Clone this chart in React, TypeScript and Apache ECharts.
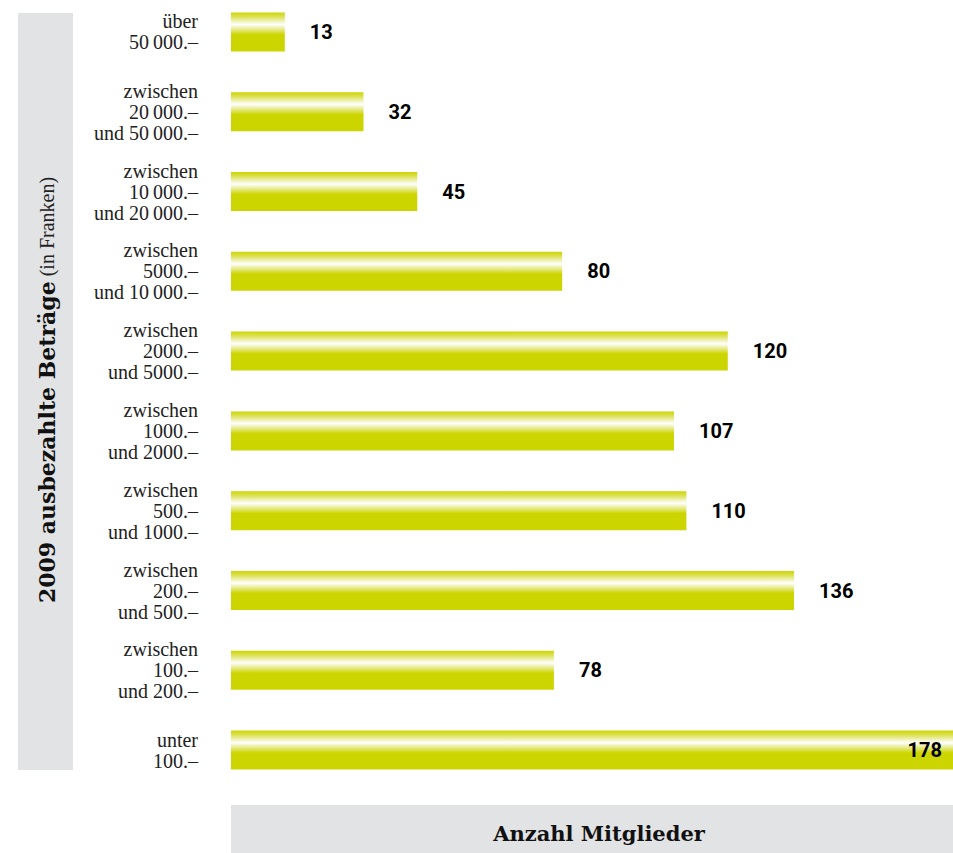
import React, { useEffect, useRef } from "react";
import * as echarts from "echarts";

const categories = [
  "über\n50\u2009000.–",
  "zwischen\n20\u2009000.–\nund 50\u2009000.–",
  "zwischen\n10\u2009000.–\nund 20\u2009000.–",
  "zwischen\n5000.–\nund 10\u2009000.–",
  "zwischen\n2000.–\nund 5000.–",
  "zwischen\n1000.–\nund 2000.–",
  "zwischen\n500.–\nund 1000.–",
  "zwischen\n200.–\nund 500.–",
  "zwischen\n100.–\nund 200.–",
  "unter\n100.–",
];
const values = [13, 32, 45, 80, 120, 107, 110, 136, 78, 178];
const xTitle = "Anzahl Mitglieder";
const yTitleBold = "2009 ausbezahlte Beträge";
const yTitleLight = " (in Franken)";

const SHIFT = 8;

export default function App() {
  const ref = useRef<HTMLDivElement>(null);
  useEffect(() => {
    if (!ref.current) return;
    const chart = echarts.init(ref.current, null, { renderer: "svg" });
    const yellow = "#cdd500";
    const grad = new echarts.graphic.LinearGradient(0, 0, 0, 1, [
      { offset: 0, color: "#cdd500" },
      { offset: 0.12, color: "#dde25a" },
      { offset: 0.31, color: "#ffffff" },
      { offset: 0.45, color: "#e4e87a" },
      { offset: 0.57, color: yellow },
      { offset: 1, color: yellow },
    ]);
    const maxVal = Math.max(...values);
    chart.setOption({
      animation: false,
      backgroundColor: "#ffffff",
      grid: { left: 231, right: 0, top: 0, height: 798, containLabel: false },
      xAxis: {
        type: "value",
        min: 0,
        max: 174.4,
        show: false,
      },
      yAxis: {
        type: "category",
        inverse: true,
        data: categories,
        axisLine: { show: false },
        axisTick: { show: false },
        splitLine: { show: false },
        axisLabel: {
          margin: 33,
          align: "right",
          fontFamily: "Liberation Serif",
          fontSize: 20,
          lineHeight: 21,
          color: "#222222",
        },
      },
      graphic: [
        {
          type: "rect",
          shape: { x: 18, y: 13 + SHIFT, width: 55, height: 757 },
          style: { fill: "#e2e3e5" },
          z: 0,
        },
        {
          type: "rect",
          shape: { x: 231, y: 805 + SHIFT, width: 722, height: 48 },
          style: { fill: "#e2e3e5" },
          z: 0,
        },
        {
          type: "text",
          x: 599,
          y: 833 + SHIFT,
          style: {
            text: xTitle,
            fontFamily: "DejaVu Serif",
            fontWeight: "bold",
            fontSize: 21,
            fill: "#111111",
            align: "center",
            verticalAlign: "middle",
          },
        },
        {
          type: "text",
          x: 47,
          y: 390 + SHIFT,
          rotation: Math.PI / 2,
          style: {
            text: "{b|" + yTitleBold + "}{l|" + yTitleLight + "}",
            align: "center",
            verticalAlign: "middle",
            rich: {
              b: {
                fontFamily: "DejaVu Serif",
                fontWeight: "bold",
                fontSize: 22,
                fill: "#111111",
              },
              l: {
                fontFamily: "Liberation Serif",
                fontSize: 20,
                fill: "#222222",
              },
            },
          },
        },
      ],
      series: [
        {
          type: "bar",
          data: values.map((v) => ({
            value: v,
            label:
              v === maxVal
                ? { position: "insideRight", offset: [-6, 0] }
                : { position: "right", distance: 25 },
          })),
          barWidth: 39,
          clip: true,
          itemStyle: { color: grad },
          label: {
            show: true,
            fontFamily: "Roboto",
            fontWeight: "bold",
            fontSize: 20,
            color: "#000000",
          },
        },
      ],
    });
    return () => chart.dispose();
  }, []);
  return (
    <div
      ref={ref}
      style={{ position: "absolute", left: 0, top: -SHIFT, width: 953, height: 853 + SHIFT }}
    />
  );
}
